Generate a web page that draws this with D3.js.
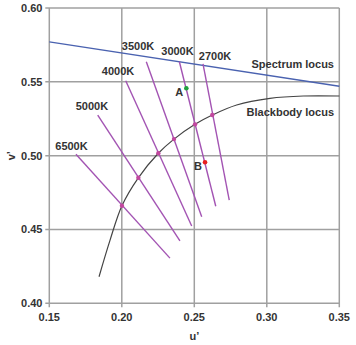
<!DOCTYPE html>
<html>
<head>
<meta charset="utf-8">
<script src="https://cdn.jsdelivr.net/npm/d3@7"></script>
<style>
  body { margin: 0; background: #fff; }
  text { font-family: "Liberation Sans", Arial, sans-serif; font-weight: bold; fill: #333; }
</style>
</head>
<body>
<div id="main"></div>
<script>
const width = 356;
const height = 345;

const xTicks = [0.15, 0.2, 0.25, 0.3, 0.35];
const yTicks = [0.4, 0.45, 0.5, 0.55, 0.6];

// spectrum locus (straight segment across the plot)
const spectrumLocus = [[0.15, 0.577], [0.35, 0.547]];

// blackbody (Planckian) locus
const blackbodyLocus = [
  [0.1843, 0.418], [0.1919, 0.4428], [0.2001, 0.4661], [0.2114, 0.485],
  [0.2252, 0.5016], [0.236, 0.5112], [0.2505, 0.5212], [0.2624, 0.5275],
  [0.2792, 0.5343], [0.3022, 0.5388], [0.3252, 0.5404], [0.35, 0.5404]
];

// isotherm lines: label, start, end, crossing with the locus
const isoLabels = ["6500K", "5000K", "4000K", "3500K", "3000K", "2700K"];
const isoStart = [[0.1684, 0.5009], [0.1834, 0.5275], [0.2027, 0.5507], [0.2169, 0.5636], [0.2397, 0.5636], [0.256, 0.5621]];
const isoEnd = [[0.2332, 0.4306], [0.2401, 0.4423], [0.2482, 0.4523], [0.2551, 0.4586], [0.2648, 0.4657], [0.2741, 0.4699]];
const isoCross = [[0.2001, 0.4661], [0.2114, 0.485], [0.2252, 0.5016], [0.236, 0.5112], [0.2505, 0.5212], [0.2624, 0.5275]];
// label anchor (text centre) in data units
const isoLabelPos = [[0.1653, 0.5065], [0.1794, 0.5336], [0.1974, 0.5573], [0.2112, 0.5743], [0.2384, 0.5709], [0.2643, 0.5675]];

const points = [
  { name: "A", u: 0.2445, v: 0.5456, color: "#22a040" },
  { name: "B", u: 0.2574, v: 0.4955, color: "#e82020" }
];

const xScale = d3.scaleLinear().domain([0.15, 0.35]).range([49.3, 339.3]);
const yScale = d3.scaleLinear().domain([0.4, 0.6]).range([303.3, 8]);

const svg = d3.select("#main").append("svg").attr("width", width).attr("height", height);

// grid
svg.append("g")
  .selectAll("line")
  .data(xTicks)
  .enter()
  .append("line")
  .attr("x1", (d) => xScale(d))
  .attr("x2", (d) => xScale(d))
  .attr("y1", yScale(0.6))
  .attr("y2", yScale(0.4) + 4)
  .attr("stroke", "#a0a0a0")
  .attr("stroke-width", 1.5);

svg.append("g")
  .selectAll("line")
  .data(yTicks)
  .enter()
  .append("line")
  .attr("x1", xScale(0.15) - 4)
  .attr("x2", xScale(0.35))
  .attr("y1", (d) => yScale(d))
  .attr("y2", (d) => yScale(d))
  .attr("stroke", "#a0a0a0")
  .attr("stroke-width", 1.5);

// tick labels
svg.append("g")
  .selectAll("text")
  .data(xTicks)
  .enter()
  .append("text")
  .attr("x", (d) => xScale(d))
  .attr("y", 321)
  .attr("text-anchor", "middle")
  .style("font-size", "11px")
  .text((d) => d.toFixed(2));

svg.append("g")
  .selectAll("text")
  .data(yTicks)
  .enter()
  .append("text")
  .attr("x", 42.5)
  .attr("y", (d) => yScale(d) + 4)
  .attr("text-anchor", "end")
  .style("font-size", "11px")
  .text((d) => d.toFixed(2));

svg.append("text")
  .attr("x", xScale(0.25))
  .attr("y", 340)
  .attr("text-anchor", "middle")
  .style("font-size", "11px")
  .text("u\u2019");

svg.append("text")
  .attr("transform", `translate(11, ${yScale(0.5)}) rotate(-90)`)
  .attr("text-anchor", "middle")
  .attr("dy", "0.35em")
  .style("font-size", "11px")
  .text("v\u2019");

const line = d3.line().x((d) => xScale(d[0])).y((d) => yScale(d[1]));

// spectrum locus
svg.append("path")
  .attr("d", line(spectrumLocus))
  .attr("fill", "none")
  .attr("stroke", "#4a62b0")
  .attr("stroke-width", 1.3);

// blackbody locus
svg.append("path")
  .attr("d", line.curve(d3.curveCatmullRom)(blackbodyLocus))
  .attr("fill", "none")
  .attr("stroke", "#444")
  .attr("stroke-width", 1.2);

// isotherms
svg.append("g")
  .selectAll("line")
  .data(isoLabels)
  .enter()
  .append("line")
  .attr("x1", (d, i) => xScale(isoStart[i][0]))
  .attr("y1", (d, i) => yScale(isoStart[i][1]))
  .attr("x2", (d, i) => xScale(isoEnd[i][0]))
  .attr("y2", (d, i) => yScale(isoEnd[i][1]))
  .attr("stroke", "#a354b3")
  .attr("stroke-width", 1.4);

svg.append("g")
  .selectAll("circle")
  .data(isoCross)
  .enter()
  .append("circle")
  .attr("cx", (d) => xScale(d[0]))
  .attr("cy", (d) => yScale(d[1]))
  .attr("r", 2.2)
  .attr("fill", "#c2479f");

svg.append("g")
  .selectAll("text")
  .data(isoLabels)
  .enter()
  .append("text")
  .attr("x", (d, i) => xScale(isoLabelPos[i][0]))
  .attr("y", (d, i) => yScale(isoLabelPos[i][1]) + 4)
  .attr("text-anchor", "middle")
  .style("font-size", "11px")
  .text((d) => d);

// locus labels
svg.append("text")
  .attr("x", 334)
  .attr("y", 68)
  .attr("text-anchor", "end")
  .style("font-size", "11px")
  .text("Spectrum locus");

svg.append("text")
  .attr("x", 334)
  .attr("y", 115.5)
  .attr("text-anchor", "end")
  .style("font-size", "11px")
  .text("Blackbody locus");

// sample points
svg.append("g")
  .selectAll("circle")
  .data(points)
  .enter()
  .append("circle")
  .attr("cx", (d) => xScale(d.u))
  .attr("cy", (d) => yScale(d.v))
  .attr("r", 2.3)
  .attr("fill", (d) => d.color);

svg.append("g")
  .selectAll("text")
  .data(points)
  .enter()
  .append("text")
  .attr("x", (d) => xScale(d.u) - 3)
  .attr("y", (d) => yScale(d.v) + 8)
  .attr("text-anchor", "end")
  .style("font-size", "11px")
  .text((d) => d.name);
</script>
</body>
</html>
